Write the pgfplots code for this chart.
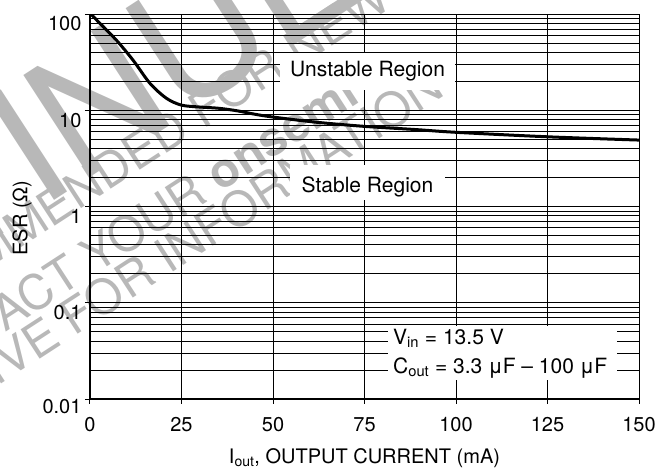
\documentclass[border=0pt]{standalone}
\usepackage{fontspec}
\setmainfont{TeX Gyre Heros}
\usepackage{pgfplots}
\pgfplotsset{compat=1.18}
\definecolor{wm}{gray}{0.72}

\begin{document}
\begin{tikzpicture}
\path[use as bounding box] (-90bp,-73bp) rectangle (571bp,399bp);
\begin{scope}
\clip (-90bp,-73bp) rectangle (571bp,399bp);

% watermark (behind the chart)
\begin{scope}[every node/.style={text=wm, inner sep=0pt, rotate=33}]
  \node[anchor=base west, font=\fontsize{167bp}{167bp}\selectfont] at (-50bp,189bp) {INUED};
  \node[anchor=base east, font=\fontsize{167bp}{167bp}\selectfont] at (-50bp,189bp) {DISCONT};
  \node[anchor=base west, font=\fontsize{48bp}{48bp}\selectfont] at (-72bp,149bp) {MENDED FOR NEW DESIGN};
  \node[anchor=base east, font=\fontsize{48bp}{48bp}\selectfont] at (-72bp,149bp) {NOT RECOM};
  \node[anchor=base west, font=\fontsize{48bp}{48bp}\selectfont] at (-85bp,66bp) {ACT YOUR \textbf{onsemi}};
  \node[anchor=base east, font=\fontsize{48bp}{48bp}\selectfont] at (-85bp,66bp) {CONT};
  \node[anchor=base west, font=\fontsize{48bp}{48bp}\selectfont] at (-81bp,20bp) {VE FOR INFORMATION};
  \node[anchor=base east, font=\fontsize{48bp}{48bp}\selectfont] at (-81bp,20bp) {REPRESENTATI};
\end{scope}

\begin{axis}[
    scale only axis,
    width=549bp, height=385bp,
    at={(0,0)}, anchor=south west,
    xmin=0, xmax=150,
    ymode=log, ymin=0.01, ymax=100,
    xtick={0,25,50,75,100,125,150},
    ytick={0.01,0.1,1,10,100},
    yticklabels={\raisebox{5bp}{0.01},0.1,1,10,100},
    minor ytick={0.02,0.03,0.04,0.05,0.06,0.07,0.08,0.09,
                 0.2,0.3,0.4,0.5,0.6,0.7,0.8,0.9,
                 2,3,4,5,6,7,8,9,20,30,40,50,60,70,80,90},
    tick align=outside, tick pos=left,
    major tick length=5bp, minor tick length=0pt,
    xmajorgrids, ymajorgrids, yminorgrids,
    major grid style={black, line width=0.8bp},
    minor grid style={black, line width=0.8bp},
    axis line style={line width=0.8bp},
    every tick/.style={black, line width=1bp},
    /pgf/number format/assume math mode=true,
    tick label style={font=\fontsize{20bp}{24bp}\selectfont},
    y tick label style={yshift=-10bp},
    x tick label style={yshift=-10bp},
    xlabel={I\textsubscript{out}, OUTPUT CURRENT (mA)},
    ylabel={ESR (Ω)},
    every axis x label/.style={at={(axis description cs:0.5,0)}, anchor=center,
      yshift=-59bp, font=\fontsize{20bp}{24bp}\selectfont},
    every axis y label/.style={at={([xshift=-68bp]axis description cs:0,0.47)},
      anchor=center, rotate=90, font=\fontsize{20bp}{24bp}\selectfont},
  ]

  \addplot[black, line width=3bp, smooth] coordinates {
    (0,102) (2.7,80) (7.3,53) (11.8,33) (16.4,19) (20.9,13.3)
    (25,11.3) (30,10.8) (35,10.5) (40,9.9) (45,9.1) (50,8.5)
    (62,7.5) (75,6.8) (89,6.3) (100,5.9) (125,5.3) (150,4.9)};

  \fill[white] (rel axis cs:0.3461,0.8987) rectangle (rel axis cs:0.6648,0.8026);
  \node[font=\fontsize{21bp}{25bp}\selectfont] at (rel axis cs:0.5055,0.8506) {Unstable Region};
  \fill[white] (rel axis cs:0.3643,0.6078) rectangle (rel axis cs:0.6466,0.5169);
  \node[font=\fontsize{21bp}{25bp}\selectfont] at (rel axis cs:0.5055,0.5519) {Stable Region};
  \fill[white] (rel axis cs:0.5428,0.1896) rectangle (rel axis cs:0.9599,0.0494);
  \node[anchor=west, inner sep=0pt, font=\fontsize{21bp}{25bp}\selectfont] at (rel axis cs:0.5519,0.1584) {V\textsubscript{in} = 13.5 V};
  \node[anchor=west, inner sep=0pt, font=\fontsize{21bp}{25bp}\selectfont] at (rel axis cs:0.5519,0.0805) {C\textsubscript{out} = 3.3 μF – 100 μF};
\end{axis}

\draw[line width=2.6bp] (0,385bp) -- (0,0) -- (549bp,0);
\end{scope}
\end{tikzpicture}
\end{document}
